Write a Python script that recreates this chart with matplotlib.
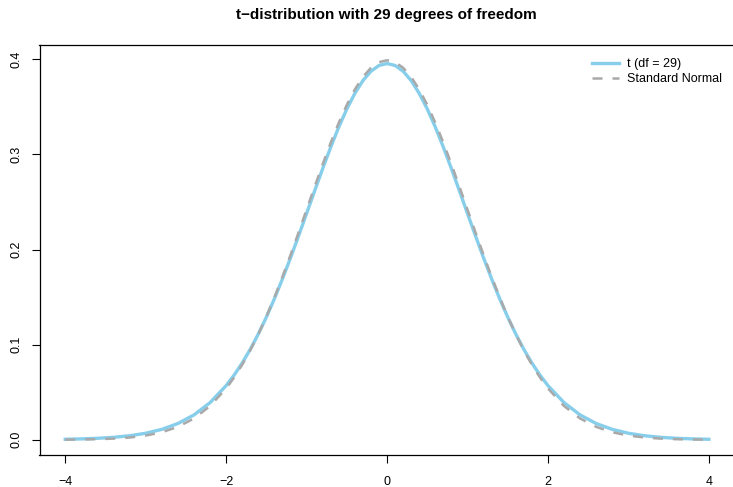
import matplotlib.pyplot as plt
import numpy as np

plt.rcParams['font.family'] = ['Liberation Sans', 'DejaVu Sans']

# density values (x grid is finer near the peak)
x_vals = [-4.0, -3.8, -3.6, -3.4, -3.2, -3.0, -2.8, -2.6, -2.4, -2.2,
          -2.0, -1.9, -1.8, -1.7, -1.6, -1.5, -1.4, -1.3, -1.2, -1.1,
          -1.0, -0.9, -0.8, -0.7, -0.6, -0.5, -0.4, -0.3, -0.2, -0.1,
          0.0, 0.1, 0.2, 0.3, 0.4, 0.5, 0.6, 0.7, 0.8, 0.9,
          1.0, 1.1, 1.2, 1.3, 1.4, 1.5, 1.6, 1.7, 1.8, 1.9,
          2.0, 2.2, 2.4, 2.6, 2.8, 3.0, 3.2, 3.4, 3.6, 3.8, 4.0]

t_density = [0.00054, 0.00092, 0.00155, 0.00258, 0.00424, 0.00686, 0.01092, 0.01707, 0.02612, 0.03906,
             0.05695, 0.06806, 0.08077, 0.09513, 0.11120, 0.12894, 0.14830, 0.16912, 0.19119, 0.21423,
             0.23786, 0.26164, 0.28508, 0.30762, 0.32870, 0.34774, 0.36419, 0.37756, 0.38743, 0.39348,
             0.39552, 0.39348, 0.38743, 0.37756, 0.36419, 0.34774, 0.32870, 0.30762, 0.28508, 0.26164,
             0.23786, 0.21423, 0.19119, 0.16912, 0.14830, 0.12894, 0.11120, 0.09513, 0.08077, 0.06806,
             0.05695, 0.03906, 0.02612, 0.01707, 0.01092, 0.00686, 0.00424, 0.00258, 0.00155, 0.00092, 0.00054]

normal_density = [0.00013, 0.00029, 0.00061, 0.00123, 0.00238, 0.00443, 0.00792, 0.01358, 0.02239, 0.03547,
                  0.05399, 0.06562, 0.07895, 0.09405, 0.11092, 0.12952, 0.14973, 0.17137, 0.19419, 0.21785,
                  0.24197, 0.26609, 0.28969, 0.31225, 0.33322, 0.35207, 0.36827, 0.38139, 0.39104, 0.39695,
                  0.39894, 0.39695, 0.39104, 0.38139, 0.36827, 0.35207, 0.33322, 0.31225, 0.28969, 0.26609,
                  0.24197, 0.21785, 0.19419, 0.17137, 0.14973, 0.12952, 0.11092, 0.09405, 0.07895, 0.06562,
                  0.05399, 0.03547, 0.02239, 0.01358, 0.00792, 0.00443, 0.00238, 0.00123, 0.00061, 0.00029, 0.00013]

x_ticks = [-4, -2, 0, 2, 4]
y_ticks = [0.0, 0.1, 0.2, 0.3, 0.4]

W, H = 733, 487
fig = plt.figure(figsize=(W / 100, H / 100), dpi=100)
# right edge of the box sits just outside the picture, as in the original
ax = fig.add_axes([39.5 / W, (H - 455) / H, (737 - 39.5) / W, (455 - 45) / H])

ax.plot(x_vals, t_density, color='#87CEEB', lw=2.4, label='t (df = 29)', zorder=2)
ax.plot(x_vals, normal_density, color='#A9A9A9', lw=1.8, ls=(0, (4, 4)),
        label='Standard Normal', zorder=3)

ax.set_xlim(-4.32, 4.35)
ax.set_ylim(-0.016, 0.415)
ax.set_xticks(x_ticks)
ax.set_xticklabels(['\u22124', '\u22122', '0', '2', '4'])
ax.set_yticks(y_ticks)
ax.set_yticklabels(['0.0', '0.1', '0.2', '0.3', '0.4'], rotation=90, va='center')
ax.tick_params(direction='out', length=5.8, width=0.8, labelsize=9)
ax.tick_params(axis='x', pad=9.5)
ax.tick_params(axis='y', pad=6.5)
for sp in ax.spines.values():
    sp.set_linewidth(0.9)
ax.spines['right'].set_visible(False)

fig.text(386 / W, 1 - 15 / H, 't\u2212distribution with 29 degrees of freedom',
         ha='center', va='center', fontsize=11, fontweight='bold')

ax.legend(loc='upper left', bbox_to_anchor=(586 / W, 1 - 52 / H),
          bbox_transform=fig.transFigure, frameon=False, fontsize=9,
          handlelength=2.1, handletextpad=0.7, labelspacing=0.25, borderpad=0)

fig.savefig('out.png', dpi=100)
